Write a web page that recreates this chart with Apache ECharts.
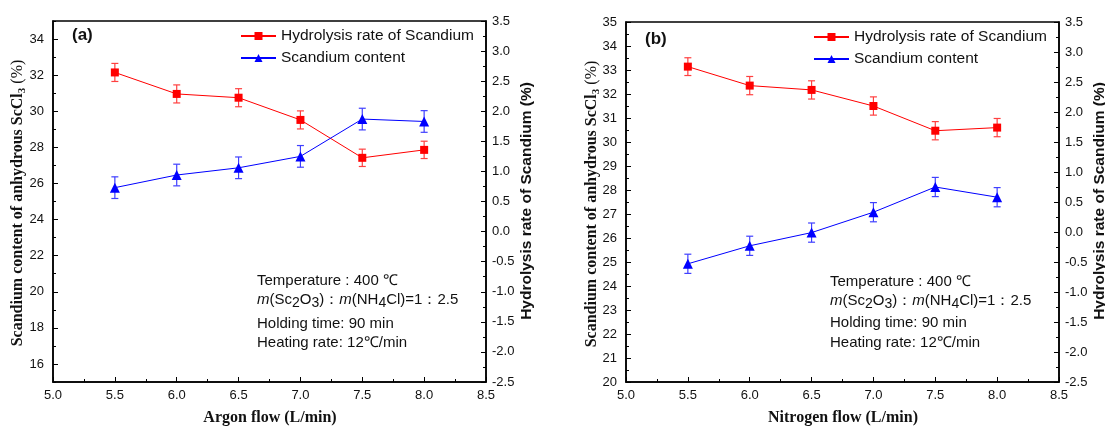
<!DOCTYPE html>
<html>
<head>
<meta charset="utf-8">
<script src="https://cdn.jsdelivr.net/npm/echarts@6/dist/echarts.min.js"></script>
<style>
html,body{margin:0;padding:0;background:#fff;}
#chart{width:1105px;height:429px;}
</style>
</head>
<body>
<div id="chart"></div>
<script>
// ---- data ----
const flow = [5.5, 6.0, 6.5, 7.0, 7.5, 8.0];
// panel (a) argon flow
const redA = [32.15, 30.96, 30.75, 29.52, 27.42, 27.86];      // left axis
const redAErr = [0.5, 0.5, 0.5, 0.5, 0.48, 0.48];
const blueA = [0.73, 0.94, 1.06, 1.25, 1.87, 1.83];           // right axis
const blueAErr = [0.18, 0.18, 0.18, 0.18, 0.18, 0.18];
// panel (b) nitrogen flow
const redB = [33.14, 32.35, 32.17, 31.5, 30.47, 30.6];
const redBErr = [0.37, 0.38, 0.38, 0.38, 0.38, 0.38];
const blueB = [-0.53, -0.23, -0.01, 0.33, 0.75, 0.58];
const blueBErr = [0.16, 0.16, 0.16, 0.16, 0.16, 0.16];

const xTicks = [5.0, 5.5, 6.0, 6.5, 7.0, 7.5, 8.0, 8.5];
const leftTicksA = [16, 18, 20, 22, 24, 26, 28, 30, 32, 34];
const leftTicksB = [20, 21, 22, 23, 24, 25, 26, 27, 28, 29, 30, 31, 32, 33, 34, 35];
const rightTicks = [-2.5, -2.0, -1.5, -1.0, -0.5, 0.0, 0.5, 1.0, 1.5, 2.0, 2.5, 3.0, 3.5];

const redName = 'Hydrolysis rate of Scandium';
const blueName = 'Scandium content';
const xTitles = ['Argon flow (L/min)', 'Nitrogen flow (L/min)'];
const panelLabels = ['(a)', '(b)'];
const notes = ['Temperature : 400 ℃', '{i|m}(Sc{s|2}O{s|3})：{i|m}(NH{s|4}Cl)=1：2.5', 'Holding time: 90 min', 'Heating rate: 12℃/min'];

// ---- styling ----
const SANS = "'Liberation Sans', Arial, sans-serif";
const SERIF = "'Liberation Serif', 'Times New Roman', serif";
const RED = '#ff0000', BLUE = '#0000ff';
const RED_E = '#ff4040', BLUE_E = '#4040ff';
const TICK_FONT = 13;

const zip = (xs, ys, es) => xs.map((x, i) => es ? [x, ys[i], es[i]] : [x, ys[i]]);

function xAxis(gi) {
  return {
    type: 'value', gridIndex: gi, min: xTicks[0], max: xTicks[xTicks.length - 1], interval: 0.5,
    axisLine: { onZero: false, lineStyle: { color: '#000', width: 1.5 } },
    axisTick: { inside: true, length: 5, lineStyle: { color: '#000', width: 1 } },
    minorTick: { show: true, splitNumber: 2, length: 3, lineStyle: { color: '#000', width: 1 } },
    splitLine: { show: false },
    axisLabel: { color: '#111', fontSize: TICK_FONT, fontFamily: SANS, margin: 7, formatter: v => v.toFixed(1) }
  };
}
function rightAxis(gi) {
  return {
    type: 'value', gridIndex: gi, position: 'right', min: rightTicks[0], max: rightTicks[rightTicks.length - 1], interval: 0.5,
    axisLine: { show: true, onZero: false, lineStyle: { color: '#000', width: 1.5 } },
    axisTick: { show: true, inside: true, length: 5, lineStyle: { color: '#000', width: 1 } },
    minorTick: { show: true, splitNumber: 2, length: 3, lineStyle: { color: '#000', width: 1 } },
    splitLine: { show: false },
    axisLabel: { color: '#111', fontSize: TICK_FONT, fontFamily: SANS, margin: 6, formatter: v => v.toFixed(1) }
  };
}

function errRender(color) {
  return function (params, api) {
    const x = api.value(0), y = api.value(1), e = api.value(2);
    const t = api.coord([x, y + e]);
    const b = api.coord([x, y - e]);
    const cw = 3.5;
    const st = { stroke: color, lineWidth: 1.2 };
    return {
      type: 'group', children: [
        { type: 'line', shape: { x1: t[0], y1: t[1], x2: b[0], y2: b[1] }, style: st },
        { type: 'line', shape: { x1: t[0] - cw, y1: t[1], x2: t[0] + cw, y2: t[1] }, style: st },
        { type: 'line', shape: { x1: b[0] - cw, y1: b[1], x2: b[0] + cw, y2: b[1] }, style: st }
      ]
    };
  };
}
function errSeries(name, xi, yi, data, color) {
  return { name: name, type: 'custom', xAxisIndex: xi, yAxisIndex: yi, data: data, renderItem: errRender(color), z: 1, silent: true };
}
function lineSeries(name, xi, yi, data, color, symbol, size) {
  return {
    name: name, type: 'line', xAxisIndex: xi, yAxisIndex: yi, data: data,
    symbol: symbol, symbolSize: size, showAllSymbol: true,
    itemStyle: { color: color }, lineStyle: { color: color, width: 1 }, z: 3
  };
}

function legend(left, top) {
  return {
    left: left, top: top, orient: 'vertical', padding: 0, itemWidth: 35, itemHeight: 10, itemGap: 6,
    textStyle: { fontSize: 15.5, fontFamily: SANS, color: '#111' },
    data: [redName, blueName]
  };
}

function noteGraphics(x0, ys) {
  return notes.map((t, i) => ({
    type: 'text', x: x0, y: ys[i],
    style: {
      text: t, font: '15px ' + SANS, fill: '#111', verticalAlign: 'middle', align: 'left',
      rich: {
        i: { fontStyle: 'italic', fontSize: 15, fontFamily: SANS, fill: '#111' },
        s: { fontSize: 14, fontFamily: SANS, fill: '#111', padding: [7, 0, 0, 0] }
      }
    }
  }));
}
function vTitleLeft(x, y) {
  return {
    type: 'text', x: x, y: y, rotation: Math.PI / 2,
    style: {
      text: 'Scandium content of anhydrous ScCl{s|3} {n|(%)}', font: 'bold 16px ' + SERIF, fill: '#111',
      align: 'center', verticalAlign: 'middle',
      rich: {
        s: { fontSize: 11, fontWeight: 'bold', fontFamily: SERIF, fill: '#111', padding: [8, 0, 0, 0] },
        n: { fontSize: 16, fontWeight: 'normal', fontFamily: SERIF, fill: '#111' }
      }
    }
  };
}
function vTitleRight(x, y) {
  return {
    type: 'text', x: x, y: y, rotation: Math.PI / 2,
    style: { text: 'Hydrolysis rate of Scandium (%)', font: 'bold 15.5px ' + SANS, fill: '#111', align: 'center', verticalAlign: 'middle' }
  };
}
function hTitle(x, y, t) {
  return { type: 'text', x: x, y: y, style: { text: t, font: 'bold 16px ' + SERIF, fill: '#111', align: 'center', verticalAlign: 'middle' } };
}
function panelLabel(x, y, t) {
  return { type: 'text', x: x, y: y, style: { text: t, font: 'bold 17px ' + SANS, fill: '#111', align: 'left', verticalAlign: 'middle' } };
}

const option = {
  animation: false,
  backgroundColor: '#fff',
  grid: [
    { left: 53, top: 21, width: 433, height: 361, show: true, borderColor: '#000', borderWidth: 1.5, backgroundColor: 'transparent' },
    { left: 626, top: 22, width: 433, height: 360, show: true, borderColor: '#000', borderWidth: 1.5, backgroundColor: 'transparent' }
  ],
  xAxis: [xAxis(0), xAxis(1)],
  yAxis: [
    { // 0: left (a), major ticks + labels
      type: 'value', gridIndex: 0, position: 'left', min: 15, max: 35, interval: 1,
      axisLine: { show: true, onZero: false, lineStyle: { color: '#000', width: 1.5 } },
      axisTick: { show: true, inside: true, length: 5, customValues: leftTicksA, lineStyle: { color: '#000', width: 1 } },
      splitLine: { show: false },
      axisLabel: { color: '#111', fontSize: TICK_FONT, fontFamily: SANS, margin: 9, customValues: leftTicksA }
    },
    rightAxis(0), // 1
    { // 2: left (a) minor ticks overlay
      type: 'value', gridIndex: 0, position: 'left', min: 15, max: 35, interval: 1,
      axisLine: { show: false },
      axisTick: { show: true, inside: true, length: 3, lineStyle: { color: '#000', width: 1 } },
      splitLine: { show: false },
      axisLabel: { show: false }
    },
    { // 3: left (b)
      type: 'value', gridIndex: 1, position: 'left', min: leftTicksB[0], max: leftTicksB[leftTicksB.length - 1], interval: 1,
      axisLine: { show: true, onZero: false, lineStyle: { color: '#000', width: 1.5 } },
      axisTick: { show: true, inside: true, length: 5, lineStyle: { color: '#000', width: 1 } },
      minorTick: { show: true, splitNumber: 2, length: 3, lineStyle: { color: '#000', width: 1 } },
      splitLine: { show: false },
      axisLabel: { color: '#111', fontSize: TICK_FONT, fontFamily: SANS, margin: 9 }
    },
    rightAxis(1) // 4
  ],
  legend: [legend(240, 28), legend(813, 29)],
  series: [
    errSeries('errRedA', 0, 0, zip(flow, redA, redAErr), RED_E),
    errSeries('errBlueA', 0, 1, zip(flow, blueA, blueAErr), BLUE_E),
    errSeries('errRedB', 1, 3, zip(flow, redB, redBErr), RED_E),
    errSeries('errBlueB', 1, 4, zip(flow, blueB, blueBErr), BLUE_E),
    lineSeries(redName, 0, 0, zip(flow, redA), RED, 'rect', 8),
    lineSeries(blueName, 0, 1, zip(flow, blueA), BLUE, 'triangle', 10),
    lineSeries(redName, 1, 3, zip(flow, redB), RED, 'rect', 8),
    lineSeries(blueName, 1, 4, zip(flow, blueB), BLUE, 'triangle', 10)
  ],
  graphic: [].concat(
    noteGraphics(257, [281, 300, 324, 343]),
    noteGraphics(830, [282, 301, 323, 343]),
    [
      vTitleLeft(18, 203), vTitleRight(527, 201),
      vTitleLeft(592, 204), vTitleRight(1100, 201),
      hTitle(270, 418, xTitles[0]), hTitle(843, 418, xTitles[1]),
      panelLabel(72, 35, panelLabels[0]), panelLabel(645, 39, panelLabels[1])
    ]
  )
};

const chart = echarts.init(document.getElementById('chart'), null, { renderer: 'canvas' });
chart.setOption(option);
</script>
</body>
</html>
